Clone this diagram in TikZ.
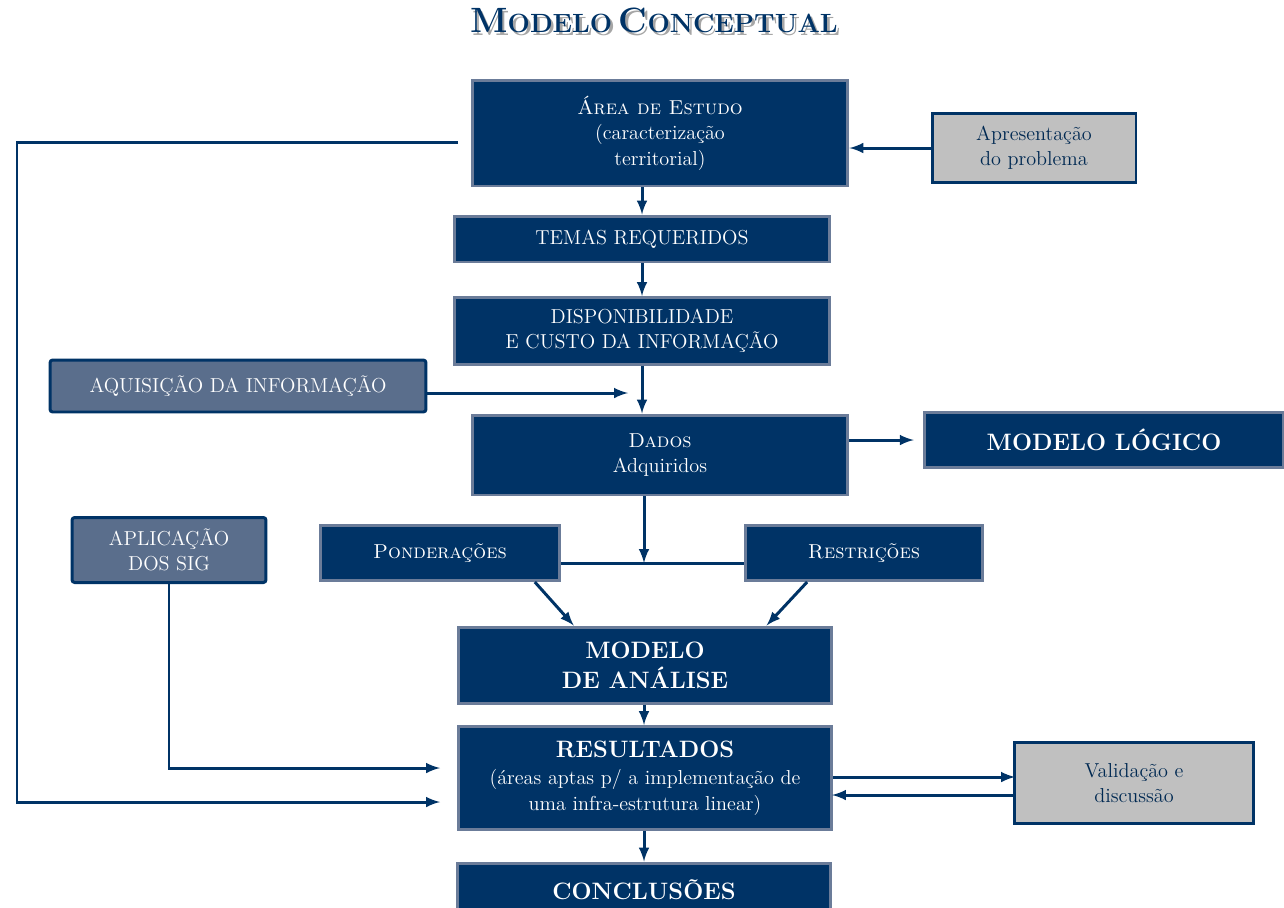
\documentclass[tikz,border=0pt]{standalone}
\usetikzlibrary{arrows,positioning}

\definecolor{navy}{RGB}{0,51,102}
\definecolor{rim}{RGB}{107,124,153}
\definecolor{slate}{RGB}{90,110,140}
\definecolor{pale}{RGB}{192,192,192}

\newcommand{\titlecaps}{\bfseries{\fontsize{20}{20}\selectfont M}{\fontsize{15}{15}\selectfont ODELO}
    {\fontsize{20}{20}\selectfont C}{\fontsize{15}{15}\selectfont ONCEPTUAL}}

\tikzset{
  darkbox/.style={rectangle, fill=navy, draw=rim, line width=1.7pt, text=white,
                  align=center, inner sep=0pt, font=\fontsize{11.5}{14.5}\selectfont},
  greybox/.style={rectangle, fill=pale, draw=navy, line width=1.7pt, text=navy!80!black,
                  align=center, inner sep=0pt, font=\fontsize{11.5}{14.5}\selectfont},
  slatebox/.style={rectangle, fill=slate, draw=navy, line width=1.7pt, rounded corners=1.5pt,
                  text=white, align=center, inner sep=0pt, font=\fontsize{11.5}{14.5}\selectfont},
  boldtext/.style={font=\fontsize{13.5}{17}\selectfont\bfseries},
  link/.style={draw=navy, line width=1.7pt, -latex},
  wire/.style={draw=navy, line width=1.7pt},
}

\begin{document}
\begin{tikzpicture}[x=0.02cm, y=-0.02cm]
    \useasboundingbox (0,0) rectangle (1284,907);

    %% title, with its grey shadow in the same node
    \node[text=navy] (titulo) at (654,22)
        {\makebox[0pt][l]{\hspace{1.5pt}\raisebox{-1.5pt}{\color{black!35}\titlecaps}}\titlecaps};

    %% main column
    \node[darkbox, minimum width=7.52cm, minimum height=2.12cm] (area) at (660,133)
        {{\scshape Área de Estudo}\\(caracterização\\territorial)};
    \node[greybox, minimum width=4.08cm, minimum height=1.38cm] (apres) at (1034,148)
        {Apresentação\\do problema};
    \node[darkbox, minimum width=7.52cm, minimum height=0.92cm] (temas) at (642,239)
        {TEMAS REQUERIDOS};
    \node[darkbox, minimum width=7.52cm, minimum height=1.34cm] (disp) at (642,331)
        {DISPONIBILIDADE\\E CUSTO DA INFORMAÇÃO};
    \node[slatebox, minimum width=7.52cm, minimum height=1.04cm] (aquis) at (238,386)
        {AQUISIÇÃO DA INFORMAÇÃO};
    \node[darkbox, minimum width=7.52cm, minimum height=1.6cm] (dados) at (660,455)
        {\scshape Dados\\Adquiridos};
    \node[darkbox, boldtext, minimum width=7.2cm, minimum height=1.1cm] (logico) at (1104,440)
        {MODELO LÓGICO};

    %% weights and restrictions
    \node[slatebox, minimum width=3.88cm, minimum height=1.3cm] (sig) at (169,550)
        {APLICAÇÃO\\DOS SIG};
    \node[darkbox, minimum width=4.8cm, minimum height=1.1cm] (pond) at (440,553)
        {\scshape Ponderações};
    \node[darkbox, minimum width=4.76cm, minimum height=1.1cm] (restr) at (864,553)
        {\scshape Restrições};

    %% analysis and results
    \node[darkbox, boldtext, minimum width=7.48cm, minimum height=1.52cm] (analise) at (645,665)
        {MODELO\\DE ANÁLISE};
    \node[darkbox, minimum width=7.48cm, minimum height=2.06cm] (result) at (645,778)
        {{\fontsize{13.5}{17}\selectfont\bfseries RESULTADOS}\\[1pt]
         (áreas aptas p/ a implementação de\\uma infra-estrutura linear)};
    \node[greybox, minimum width=4.78cm, minimum height=1.62cm] (valid) at (1134,783)
        {Validação e\\discussão};
    \node[darkbox, boldtext, minimum width=7.48cm, minimum height=1.08cm] (concl) at (644,890)
        {CONCLUSÕES};

    %% helper points
    \coordinate (aqend) at (628,393);
    \coordinate (junc) at (644,563);
    \coordinate (sigin) at (440,768);
    \coordinate (loopout) at (458,142);
    \coordinate (corner) at (17,142);
    \coordinate (loopin) at (440,802);
    \coordinate (vtop) at (1015,777);
    \coordinate (vbot) at (832,795);

    %% connectors
    \draw[link] (temas.north |- area.south) -- (temas.north);
    \draw[link] (temas) -- (disp);
    \draw[link] (disp.south) -- (disp.south |- dados.north);
    \draw[link] (aquis.east |- aqend) -- (aqend);
    \draw[link] (apres) -- (area.east |- apres);
    \draw[link, shorten >=5pt] (dados.east |- logico) -- (logico.west);

    \draw[wire] (pond.east |- junc) -- (restr.west |- junc);
    \draw[link] (dados.south -| junc) -- (junc);
    \draw[link] (pond.-17) -- (analise.151);
    \draw[link] (restr.-153) -- (analise.18);

    \draw[link] (analise.south -| junc) -- (result.north -| junc);
    \draw[link] (result.south -| junc) -- (concl.north -| junc);
    \draw[link] (sig.south) |- (sigin);
    \draw[link] (loopout) -- (corner) |- (loopin);

    \draw[link] (result.east |- vtop) -- (vtop);
    \draw[link] (valid.west |- vbot) -- (vbot);
\end{tikzpicture}
\end{document}
